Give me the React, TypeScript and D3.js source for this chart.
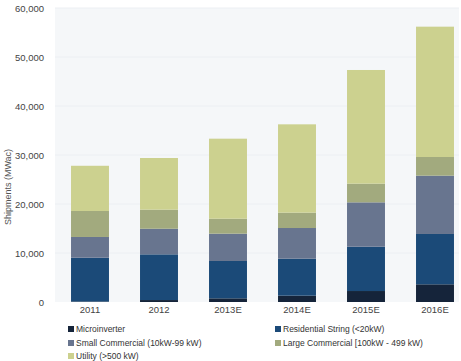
import { useEffect, useRef } from "react";
import * as d3 from "d3";

// years along the x axis
const years = ["2011", "2012", "2013E", "2014E", "2015E", "2016E"];

// shipments per segment (MWac)
const microinverter = [100, 400, 750, 1290, 2240, 3610];
const residential = [8940, 9330, 7620, 7550, 9050, 10270];
const smallCommercial = [4230, 5220, 5570, 6260, 9050, 11900];
const largeCommercial = [5300, 3890, 3060, 3130, 3810, 3810];
const utility = [9230, 10550, 16330, 18030, 23200, 26600];

const seriesNames = [
    "Microinverter",
    "Residential  String (<20kW)",
    "Small Commercial (10kW-99 kW)",
    "Large Commercial [100kW - 499 kW)",
    "Utility (>500 kW)",
];
const seriesColors = ["#15243a", "#1b4a78", "#68758f", "#a2aa7e", "#ccd18f"];

const yTicks = [0, 10000, 20000, 30000, 40000, 50000, 60000];

const App = () => {
    const ref = useRef<SVGSVGElement | null>(null);

    useEffect(() => {
        if (!ref.current) return;
        const svg = d3.select(ref.current);
        svg.selectAll("*").remove();

        const font = "'Liberation Sans', Arial, sans-serif";
        const plot = { left: 55, right: 459, top: 8, bottom: 302 };

        const rows = years.map((y, i) => ({
            year: y,
            s0: microinverter[i],
            s1: residential[i],
            s2: smallCommercial[i],
            s3: largeCommercial[i],
            s4: utility[i],
        }));
        const keys = ["s0", "s1", "s2", "s3", "s4"];
        const stacked = d3.stack<any>().keys(keys)(rows);

        const x = d3.scaleBand()
            .domain(years)
            .range([55.5, 469.5])
            .paddingInner(0.45)
            .paddingOuter(0.225);

        const y = d3.scaleLinear()
            .domain([0, 60000])
            .range([plot.bottom, plot.top]);

        // plot background
        svg.append("rect")
            .attr("x", plot.left)
            .attr("y", plot.top)
            .attr("width", plot.right - plot.left)
            .attr("height", plot.bottom - plot.top)
            .attr("fill", "#f5f7f9");

        // gridlines
        svg.append("g")
            .selectAll("line")
            .data(yTicks.slice(1))
            .enter().append("line")
            .attr("x1", plot.left)
            .attr("x2", plot.right)
            .attr("y1", d => y(d))
            .attr("y2", d => y(d))
            .attr("stroke", "#eceff3")
            .attr("stroke-width", 1);

        // bars
        svg.append("g")
            .selectAll("g")
            .data(stacked)
            .enter().append("g")
            .attr("fill", (_, i) => seriesColors[i])
            .selectAll("rect")
            .data(d => d)
            .enter().append("rect")
            .attr("x", d => x(d.data.year) as number)
            .attr("y", d => y(d[1]))
            .attr("width", x.bandwidth())
            .attr("height", d => y(d[0]) - y(d[1]));

        // y axis labels
        const yAxis = svg.append("g")
            .attr("transform", `translate(${plot.left - 8},0)`)
            .call(d3.axisLeft(y).tickValues(yTicks).tickSize(0).tickFormat(d3.format(",")));
        yAxis.select(".domain").remove();
        yAxis.selectAll("text")
            .attr("font-family", font)
            .attr("font-size", 9.5)
            .attr("fill", "#444");

        // x axis labels
        const xAxis = svg.append("g")
            .attr("transform", `translate(0,${plot.bottom + 1})`)
            .call(d3.axisBottom(x).tickSize(0));
        xAxis.select(".domain").remove();
        xAxis.selectAll("text")
            .attr("font-family", font)
            .attr("font-size", 9.5)
            .attr("fill", "#444");

        // y title
        svg.append("text")
            .attr("transform", "translate(11,187) rotate(-90)")
            .attr("text-anchor", "middle")
            .attr("font-family", font)
            .attr("font-size", 9)
            .attr("fill", "#555")
            .text("Shipments (MWac)");

        // legend
        const legendPos = [
            [68, 329], [275, 329],
            [68, 343], [275, 343],
            [68, 356],
        ];
        const legend = svg.append("g");
        seriesNames.forEach((name, k) => {
            const [lx, ly] = legendPos[k];
            legend.append("rect")
                .attr("x", lx)
                .attr("y", ly - 3)
                .attr("width", 6)
                .attr("height", 6)
                .attr("fill", seriesColors[k]);
            legend.append("text")
                .attr("x", lx + 8)
                .attr("y", ly)
                .attr("dy", "0.35em")
                .attr("font-family", font)
                .attr("font-size", 8.5)
                .attr("fill", "#333")
                .text(name);
        });
    }, []);

    return <svg ref={ref} width={461} height={361} style={{ position: "absolute", left: 0, top: 0 }}></svg>;
};

export default App;
